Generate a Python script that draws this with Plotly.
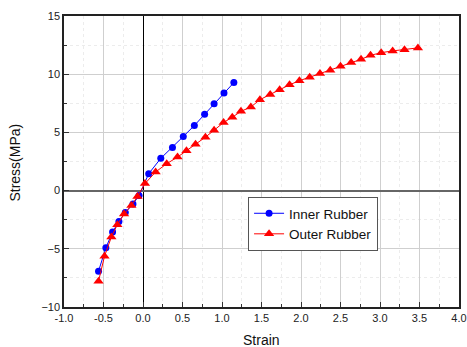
import plotly.graph_objects as go

inner_strain = [-0.563, -0.47, -0.385, -0.305, -0.224, -0.127, -0.05,
                0.072, 0.225, 0.373, 0.51, 0.65, 0.78, 0.90, 1.025, 1.15]
inner_stress = [-6.92, -4.92, -3.56, -2.65, -1.88, -1.16, -0.43,
                1.45, 2.77, 3.71, 4.65, 5.59, 6.56, 7.47, 8.38, 9.28]

outer_strain = [-0.563, -0.487, -0.40, -0.325, -0.24, -0.147, -0.07,
                0.025, 0.16, 0.30, 0.437, 0.55, 0.665, 0.79, 0.90, 1.02, 1.13,
                1.24, 1.365, 1.48, 1.61, 1.73, 1.855, 1.98, 2.11, 2.24, 2.37,
                2.50, 2.635, 2.76, 2.88, 3.015, 3.16, 3.31, 3.48]
outer_stress = [-7.78, -5.64, -3.98, -2.93, -2.02, -1.28, -0.51,
                0.6, 1.6, 2.31, 2.88, 3.42, 3.99, 4.59, 5.19, 5.85, 6.3,
                6.81, 7.18, 7.81, 8.26, 8.67, 9.09, 9.44, 9.74, 10.06, 10.34,
                10.68, 11.0, 11.28, 11.62, 11.85, 12.0, 12.11, 12.26]

x_ticks = [-1.0, -0.5, 0.0, 0.5, 1.0, 1.5, 2.0, 2.5, 3.0, 3.5, 4.0]
y_ticks = [-10, -5, 0, 5, 10, 15]

fig = go.Figure()
fig.add_trace(go.Scatter(
    x=inner_strain, y=inner_stress, mode="lines+markers", name="Inner Rubber",
    line=dict(color="#0000ff", width=1),
    marker=dict(symbol="circle", size=7, color="#0000ff"),
))
fig.add_trace(go.Scatter(
    x=outer_strain, y=outer_stress, mode="lines+markers", name="Outer Rubber",
    line=dict(color="#ff0000", width=1),
    marker=dict(symbol="triangle-up", size=9, color="#ff0000"),
))

font_family = "Liberation Sans, Arial, sans-serif"

fig.update_layout(
    width=467, height=347,
    margin=dict(l=64, r=8, t=16, b=40, autoexpand=False),
    paper_bgcolor="white", plot_bgcolor="white",
    font=dict(family=font_family, size=11, color="#222"),
    showlegend=True,
    legend=dict(
        x=0.466, y=0.378, xanchor="left", yanchor="top",
        bgcolor="white", bordercolor="#555", borderwidth=1,
        font=dict(size=13.5, color="#111"),
        tracegroupgap=0, itemwidth=30,
    ),
    xaxis=dict(
        range=[-1.0, 4.0], tickvals=x_ticks,
        ticktext=[f"{v:.1f}" for v in x_ticks],
        automargin=False,
        showline=True, linecolor="#222", linewidth=1.5, mirror=True,
        ticks="inside", ticklen=5, tickcolor="#333",
        showgrid=True, gridcolor="#cfcfcf", gridwidth=1,
        minor=dict(dtick=0.25, ticks="inside", ticklen=3, tickcolor="#333",
                   showgrid=True, gridcolor="#ececec", griddash="dot"),
        zeroline=True, zerolinecolor="#000", zerolinewidth=1,
    ),
    yaxis=dict(
        range=[-10, 15], tickvals=y_ticks,
        automargin=False,
        showline=True, linecolor="#222", linewidth=1.5, mirror=True,
        ticks="inside", ticklen=5, tickcolor="#333",
        showgrid=True, gridcolor="#cfcfcf", gridwidth=1,
        minor=dict(dtick=2.5, ticks="inside", ticklen=3, tickcolor="#333",
                   showgrid=True, gridcolor="#ececec", griddash="dot"),
        zeroline=True, zerolinecolor="#666", zerolinewidth=2,
    ),
    annotations=[
        dict(text="Strain", xref="paper", yref="paper", x=0.5, y=-0.113,
             xanchor="center", yanchor="middle", showarrow=False,
             font=dict(size=14, color="#111")),
        dict(text="Stress(MPa)", xref="paper", yref="paper", x=-0.125, y=0.495,
             xanchor="center", yanchor="middle", showarrow=False, textangle=-90,
             font=dict(size=14, color="#111")),
    ],
)

fig.write_html(
    "out.html",
    config={"displayModeBar": False},
    post_script="document.body.style.margin='0';document.body.style.overflow='hidden';",
)
